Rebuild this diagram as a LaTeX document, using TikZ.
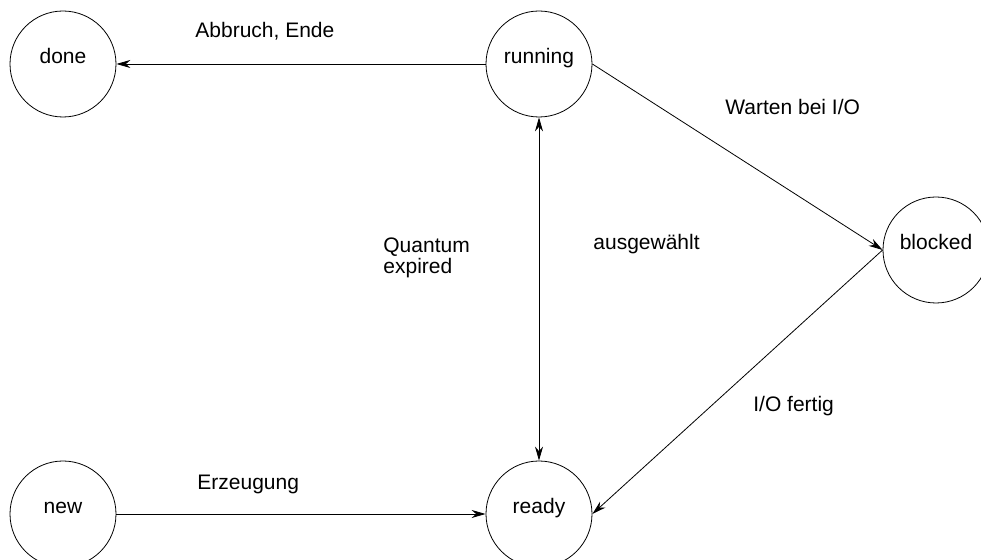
\documentclass[tikz,border=0pt]{standalone}
\usepackage{fontspec}
\setmainfont{Liberation Sans}
\usetikzlibrary{arrows.meta}
\tikzset{
 head/.tip={Stealth[length=7pt,width=4pt]},
 state/.style={draw,circle,minimum size=53pt,inner sep=0pt,text height=8pt,text depth=8pt},
 lbl/.style={anchor=base west,inner sep=0pt,align=left},
 arr/.style={-head}
}
\begin{document}
\begin{tikzpicture}[x=0.5pt,y=-0.5pt,thin,font=\fontsize{10.5}{10.5}\selectfont]
 \useasboundingbox (0,0) rectangle (981,560);
 \path 	(63,64) 	node[state] (done) {done}
 	(539,64) 	node[state] (running) {running}
 	(936,250) 	node[state] (blocked) {blocked}
 	(63,514) 	node[state] (new) {new}
 	(539,514) 	node[state] (ready) {ready};
 \path 	(195,38) 	node[lbl] (abbruch) {Abbruch, Ende}
 	(725,115) 	node[lbl] (warten) {Warten bei I/O}
 	(383,237) 	node[lbl,anchor=north west] (quantum) {Quantum\\expired}
 	(593,250) 	node[lbl] (auswahl) {ausgewählt}
 	(753,412) 	node[lbl] (fertig) {I/O fertig}
 	(197,490) 	node[lbl] (erzeugung) {Erzeugung};
 \draw[arr] (running) -- (done);
 \draw[arr] (running.east) -- (blocked.west);
 \draw[arr] (blocked.west) -- (ready.east);
 \draw[arr] (new) -- (ready);
 \draw[head-head] (running) -- (ready);
\end{tikzpicture}
\end{document}
